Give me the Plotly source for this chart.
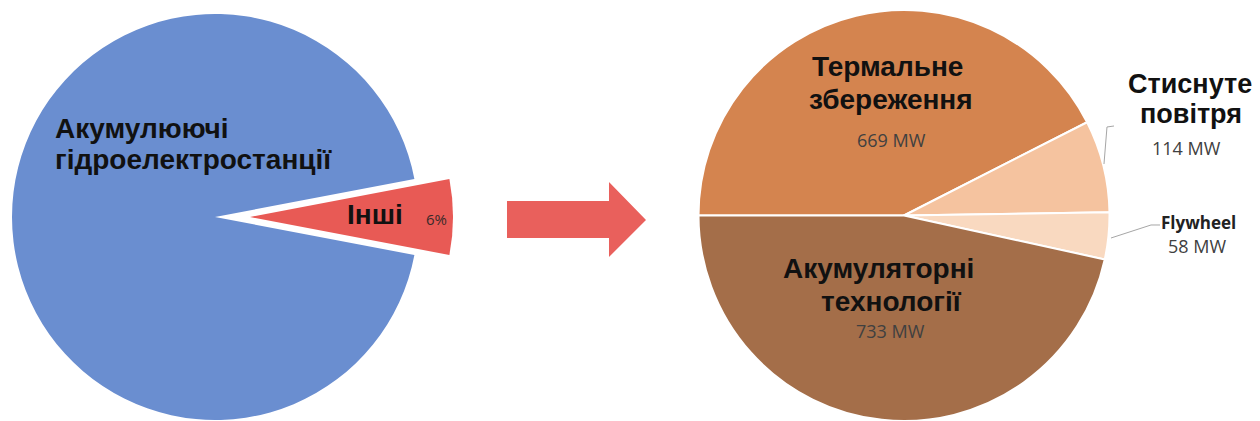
import plotly.graph_objects as go

# ---------------- data ----------------
left_labels = ["Акумулюючі гідроелектростанції", "Інші"]
left_values = [94, 6]

right_labels = ["Термальне збереження", "Стиснуте повітря", "Flywheel", "Акумуляторні технології"]
right_values = [669, 114, 58, 733]
unit = "MW"

# ---------------- styles ----------------
W, H = 1260, 421
BLUE = "#6A8ED0"
RED = "#E85A55"
ARROW = "#E9605C"
RIGHT_COLORS = ["#D4844F", "#F5C39F", "#F9D9C0", "#A46E49"]
CLEAR = "rgba(0,0,0,0)"
BOLD_FONT = "Liberation Sans, Arial, sans-serif"
VAL_FONT = "Open Sans, sans-serif"


def X(px):
    return px / W


def Y(py):
    return 1 - py / H


def dom(cx, cy, r):
    return dict(x=[X(cx - r), X(cx + r)], y=[max(0, Y(cy + r)), min(1, Y(cy - r))])


# rotation that centres the small left slice at 3 o'clock (clockwise drawing)
tot_left = sum(left_values)
small_span = 360 * left_values[1] / tot_left
rot_left = 90 - (360 - small_span) - small_span / 2 + 360

fig = go.Figure()

# big blue pie (small slice left transparent)
fig.add_trace(go.Pie(
    labels=left_labels, values=left_values, sort=False, direction="clockwise",
    rotation=rot_left, domain=dom(215, 217, 203),
    marker=dict(colors=[BLUE, CLEAR], line=dict(width=0)),
    textinfo="none", showlegend=False, hoverinfo="label+percent",
))
# exploded red slice: same pie drawn with a shifted centre
fig.add_trace(go.Pie(
    labels=left_labels, values=left_values, sort=False, direction="clockwise",
    rotation=rot_left, domain=dom(250, 217, 203),
    marker=dict(colors=[CLEAR, RED], line=dict(width=0)),
    textinfo="none", showlegend=False, hoverinfo="label+percent",
))
# right pie
fig.add_trace(go.Pie(
    labels=right_labels, values=right_values, sort=False, direction="clockwise",
    rotation=-90, domain=dom(904, 216, 206),
    marker=dict(colors=RIGHT_COLORS, line=dict(color="white", width=2)),
    textinfo="none", showlegend=False, hoverinfo="label+value",
))

# ---------------- arrow ----------------
arrow_pts = [(507, 201), (609, 201), (609, 182), (646, 220), (609, 257), (609, 238), (507, 238)]
path = "M " + " L ".join(f"{X(a):.5f},{Y(b):.5f}" for a, b in arrow_pts) + " Z"
shapes = [dict(type="path", xref="paper", yref="paper", path=path,
               fillcolor=ARROW, line=dict(width=0))]

# leader lines
leaders = [
    [(1114, 126), (1107, 127), (1104, 164)],
    [(1111, 238), (1151, 225), (1160, 225)],
]
for pts in leaders:
    p = "M " + " L ".join(f"{X(a):.5f},{Y(b):.5f}" for a, b in pts)
    shapes.append(dict(type="path", xref="paper", yref="paper", path=p,
                       line=dict(color="#A6A6A6", width=1)))

# ---------------- labels ----------------
annotations = []


def add_text(text, x, y, size, bold=True, color="#111111", xanchor="center", family=None):
    annotations.append(dict(
        text=f"<b>{text}</b>" if bold else text,
        x=X(x), y=Y(y), xref="paper", yref="paper",
        xanchor=xanchor, yanchor="middle", showarrow=False,
        font=dict(size=size, color=color, family=family or (BOLD_FONT if bold else VAL_FONT)),
    ))


# left pie labels (one annotation per line to keep the tight line spacing)
big_lines = left_labels[0].split(" ")
add_text(big_lines[0], 53, 128, 28, xanchor="left")
add_text(big_lines[1], 53, 160, 28, xanchor="left")
add_text(left_labels[1], 375, 214, 28)
add_text(f"{round(100 * left_values[1] / tot_left)}%", 436, 219, 15, bold=False, color="#3A2A2A")

# right pie labels: (line x-centres, line y-centres, size, value x, value y, value size)
right_pos = [
    ([887, 891], [67, 99], 28, 891, 140, 18),
    ([1190, 1191], [84, 114], 27, 1186, 148, 18),
    ([1198], [222], 17, 1197, 246, 18),
    ([878, 891], [268, 301], 28, 890, 331, 18),
]
for lab, val, (lx, ly, sz, vx, vy, vsz) in zip(right_labels, right_values, right_pos):
    lines = lab.split(" ")
    for t, xx, yy in zip(lines, lx, ly):
        fam = VAL_FONT if sz < 20 else BOLD_FONT
        add_text(t, xx, yy, sz, family=fam, color="#222222" if sz < 20 else "#111111")
    add_text(f"{val} {unit}", vx, vy, vsz, bold=False, color="#404040")

fig.update_layout(
    width=W, height=H, margin=dict(l=0, r=0, t=0, b=0),
    paper_bgcolor="white", plot_bgcolor="white",
    shapes=shapes, annotations=annotations,
)

fig.write_html(
    "out.html",
    config={"displayModeBar": False},
    post_script="document.body.style.margin='0';document.body.style.padding='0';",
)
